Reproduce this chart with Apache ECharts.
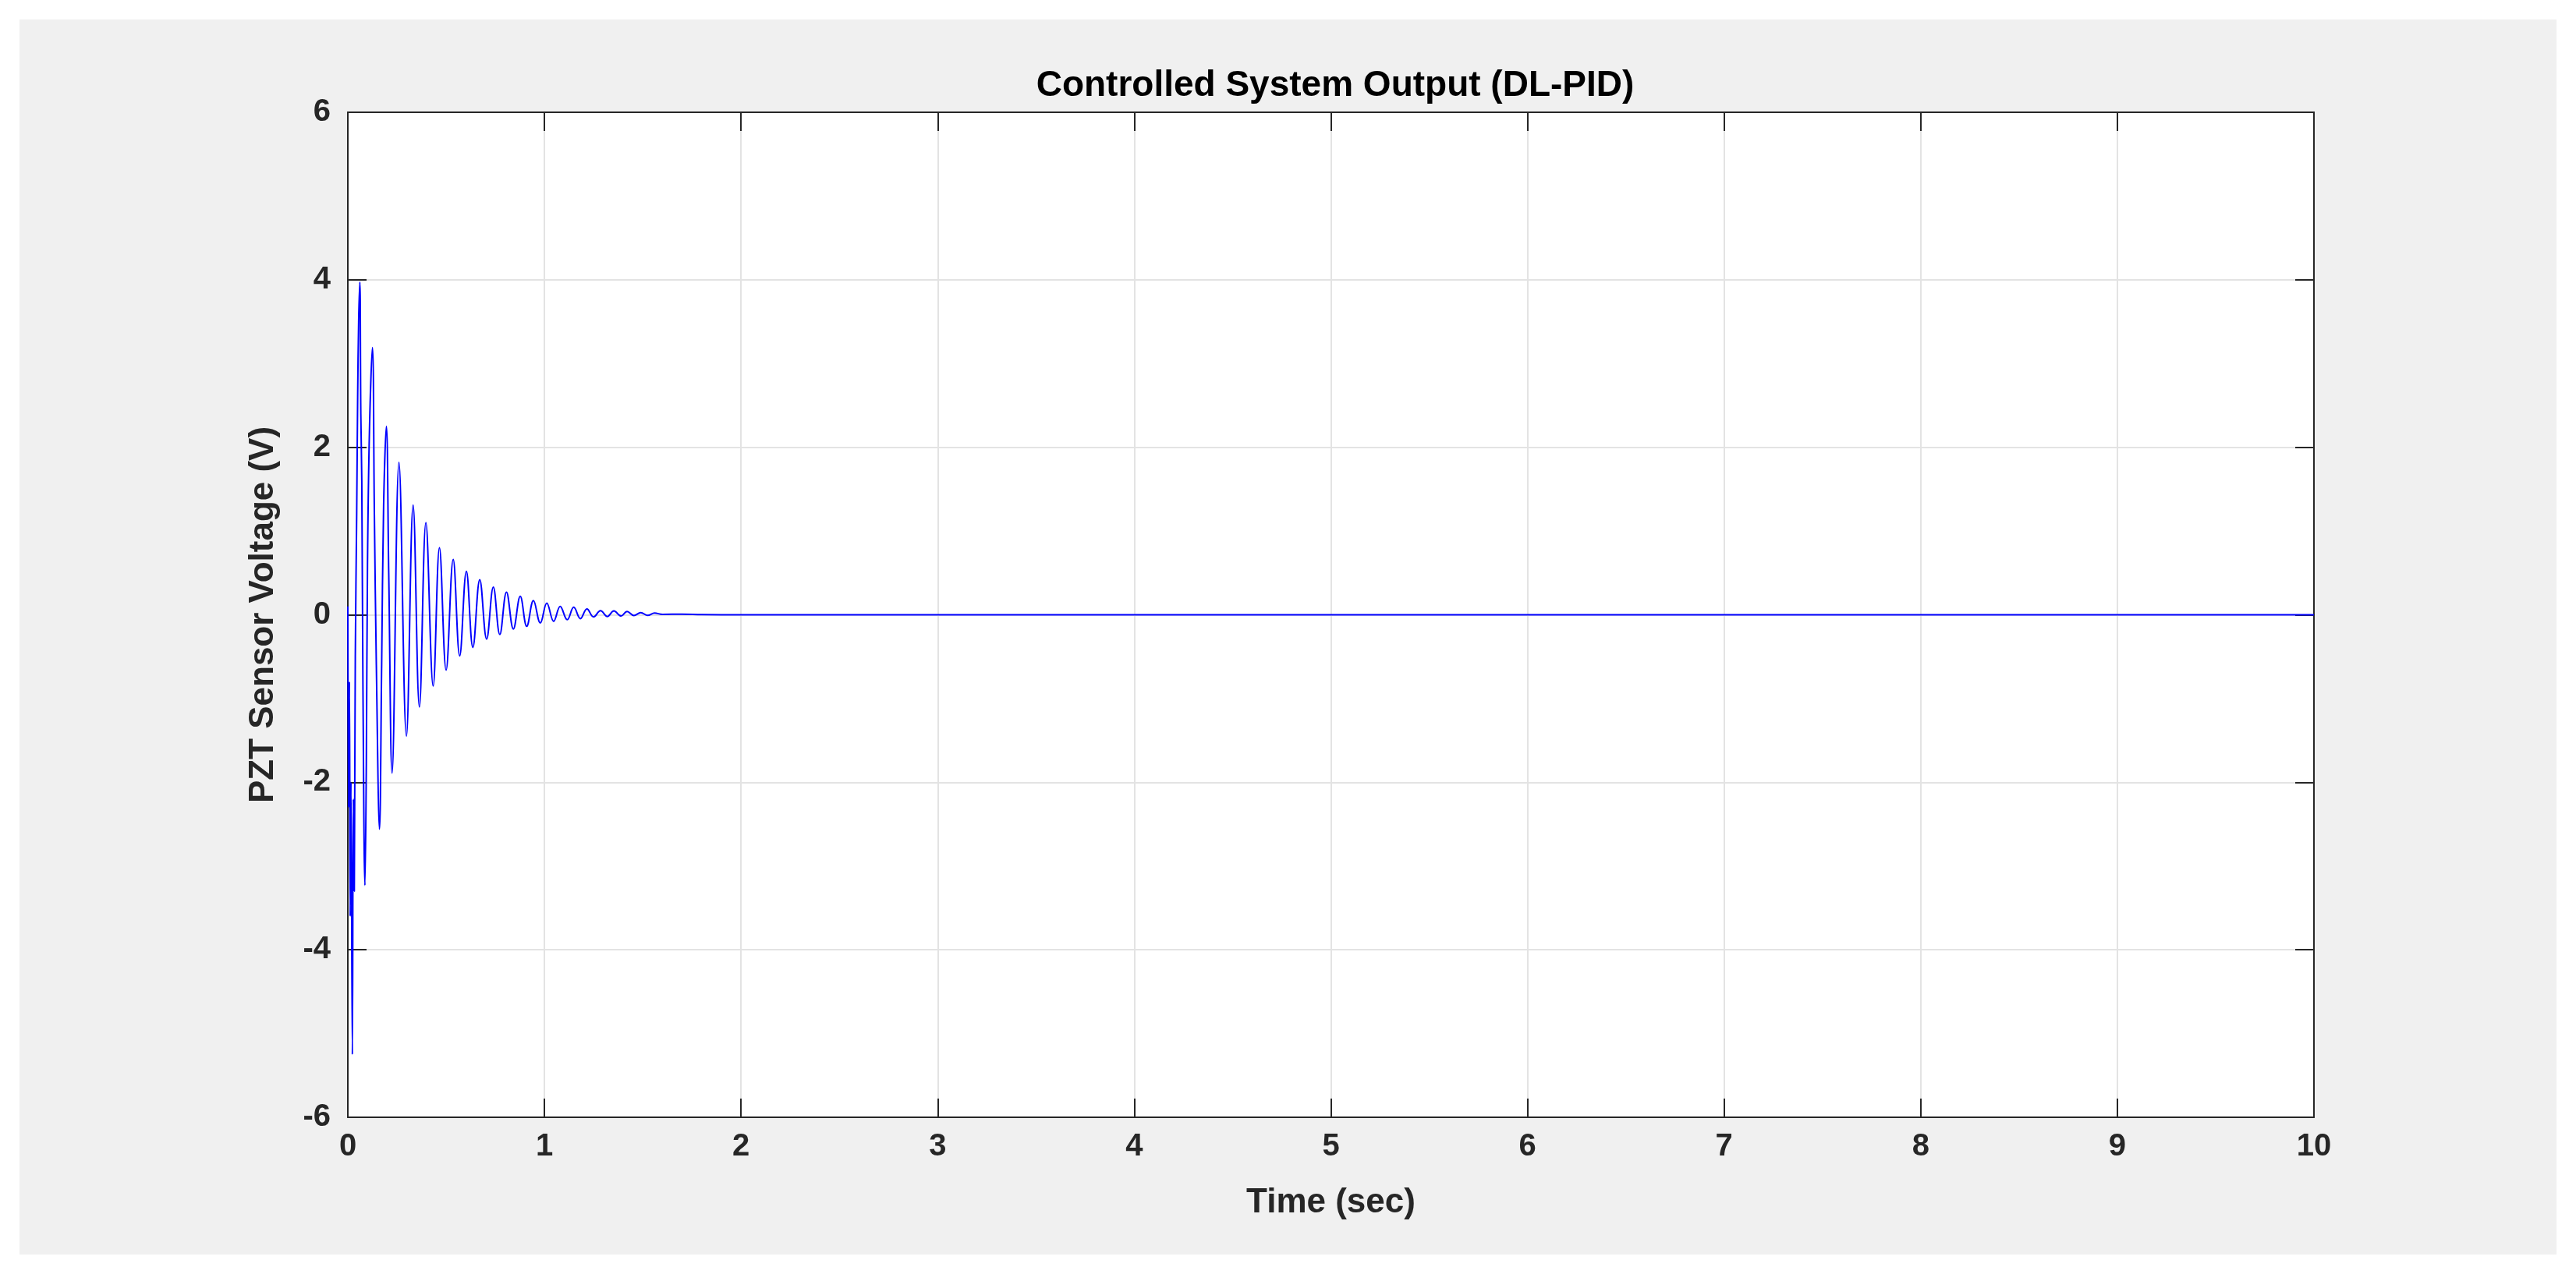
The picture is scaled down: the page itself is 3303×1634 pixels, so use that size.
<!DOCTYPE html>
<html>
<head>
<meta charset="utf-8">
<script src="https://cdn.jsdelivr.net/npm/echarts@6/dist/echarts.min.js"></script>
<style>html,body{margin:0;padding:0;background:#fff}</style>
</head>
<body>
<div id="box" style="width:3303px;height:1634px"></div>
<script>
var timeSec = [0, 0.004, 0.008, 0.012, 0.016, 0.023, 0.028, 0.033, 0.038, 0.045, 0.05, 0.055, 0.061, 0.066, 0.071, 0.077, 0.087,
  0.094, 0.1, 0.11, 0.125, 0.135, 0.145, 0.161, 0.172, 0.182, 0.196, 0.208, 0.225, 0.26, 0.298, 0.332, 0.364, 0.397, 0.434,
  0.466, 0.5, 0.536, 0.569, 0.603, 0.636, 0.671, 0.706, 0.74, 0.773, 0.807, 0.842, 0.877, 0.91, 0.944, 0.979, 1.012,
  1.047, 1.08, 1.116, 1.149, 1.183, 1.216, 1.25, 1.285, 1.32, 1.353, 1.39, 1.42, 1.455, 1.49, 1.525, 1.56, 1.6, 1.7, 1.8, 2.0, 4.5, 10];
var voltage = [0.1, -2.3, -0.8, -3.6, -2.0, -5.25, -2.2, -3.3, -0.5, 1.2, 2.6, 3.5, 3.97, 2.4, 1.6, -0.9, -3.23,
  -1.8, 0.6, 2.2, 3.19, 1.2, -0.6, -2.56, -0.6, 1.3, 2.25, 0.5, -1.89, 1.82, -1.45, 1.31, -1.10, 1.10, -0.85,
  0.80, -0.66, 0.66, -0.49, 0.52, -0.39, 0.42, -0.29, 0.33, -0.235, 0.27, -0.17, 0.22, -0.137, 0.17, -0.098, 0.14,
  -0.078, 0.10, -0.059, 0.09, -0.046, 0.07, -0.026, 0.05, -0.02, 0.046, -0.015, 0.04, -0.01, 0.026, -0.008, 0.02, 0.005, 0.008, 0.003, 0.0, 0.0, 0.0];

var xTicks = [0, 1, 2, 3, 4, 5, 6, 7, 8, 9, 10];
var yTicks = [-6, -4, -2, 0, 2, 4, 6];

var points = timeSec.map(function (t, i) { return [t, voltage[i]]; });
var font = 'Liberation Sans';
var ink = '#262626';

function frameAxis(pos, min, max, step, showLabel, gap, extra) {
  var a = {
    type: 'value', position: pos, min: min, max: max, interval: step,
    axisLine: { show: true, onZero: false, lineStyle: { color: ink, width: 2 } },
    axisTick: { show: true, inside: true, length: 24, lineStyle: { color: ink, width: 2 } },
    axisLabel: { show: showLabel, fontFamily: font, fontWeight: 'bold', fontSize: 40, color: ink, margin: gap },
    splitLine: { show: showLabel, lineStyle: { color: '#e3e3e3', width: 2 } }
  };
  for (var k in extra) a[k] = extra[k];
  return a;
}

var chart = echarts.init(document.getElementById('box'));
chart.setOption({
  backgroundColor: '#fff',
  animation: false,
  graphic: [{
    type: 'rect', z: -10, silent: true,
    shape: { x: 25, y: 25, width: 3253, height: 1584 },
    style: { fill: '#f0f0f0' }
  }],
  title: {
    text: 'Controlled System Output (DL-PID)',
    left: 1707, top: 82, textAlign: 'center',
    textStyle: { fontFamily: font, fontWeight: 'bold', fontSize: 46, color: '#000' }
  },
  grid: {
    left: 446, right: 3303 - 2967, top: 144, bottom: 1634 - 1433,
    show: true, backgroundColor: '#fff', borderWidth: 0
  },
  xAxis: [
    frameAxis('bottom', xTicks[0], xTicks[xTicks.length - 1], 1, true, 18, {
      name: 'Time (sec)', nameLocation: 'middle', nameGap: 88,
      nameTextStyle: { fontFamily: font, fontWeight: 'bold', fontSize: 44, color: ink }
    }),
    frameAxis('top', xTicks[0], xTicks[xTicks.length - 1], 1, false, 8, {})
  ],
  yAxis: [
    frameAxis('left', yTicks[0], yTicks[yTicks.length - 1], 2, true, 22, {
      name: 'PZT Sensor Voltage (V)', nameLocation: 'middle', nameGap: 86,
      nameTextStyle: { fontFamily: font, fontWeight: 'bold', fontSize: 44, color: ink }
    }),
    frameAxis('right', yTicks[0], yTicks[yTicks.length - 1], 2, false, 8, {})
  ],
  series: [{
    type: 'line', data: points, showSymbol: false, smooth: 0.4,
    lineStyle: { color: '#0000ff', width: 2 }
  }]
});
</script>
</body>
</html>
